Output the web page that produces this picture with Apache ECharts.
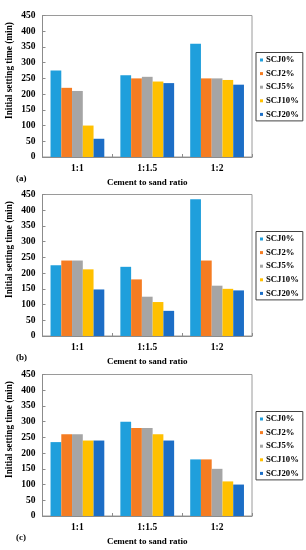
<!DOCTYPE html>
<html>
<head>
<meta charset="utf-8">
<script src="https://cdn.jsdelivr.net/npm/echarts@6/dist/echarts.min.js"></script>
<style>
html,body{margin:0;padding:0;background:#fff;}
#chart{width:306px;height:550px;}
</style>
</head>
<body>
<div id="chart"></div>
<script>
var categories = ['1:1', '1:1.5', '1:2'];
var seriesNames = ['SCJ0%', 'SCJ2%', 'SCJ5%', 'SCJ10%', 'SCJ20%'];
var colors = ['#1F9FDC', '#F57C22', '#A5A5A5', '#FFC000', '#1C6EC6'];
var yTicks = [0, 50, 100, 150, 200, 250, 300, 350, 400, 450];
var panelLabels = ['(a)', '(b)', '(c)'];
var xAxisTitle = 'Cement to sand ratio';
var yAxisTitle = 'Initial setting time (min)';

// values per series per panel, order: 1:1, 1:1.5, 1:2
var panelA_SCJ0 = [275, 260, 360];
var panelA_SCJ2 = [220, 250, 250];
var panelA_SCJ5 = [210, 255, 250];
var panelA_SCJ10 = [100, 240, 245];
var panelA_SCJ20 = [58, 235, 230];

var panelB_SCJ0 = [225, 220, 435];
var panelB_SCJ2 = [240, 180, 240];
var panelB_SCJ5 = [240, 125, 160];
var panelB_SCJ10 = [212, 108, 150];
var panelB_SCJ20 = [148, 80, 145];

var panelC_SCJ0 = [235, 300, 180];
var panelC_SCJ2 = [260, 280, 180];
var panelC_SCJ5 = [260, 280, 150];
var panelC_SCJ10 = [240, 260, 110];
var panelC_SCJ20 = [240, 240, 100];

var panels = [
  [panelA_SCJ0, panelA_SCJ2, panelA_SCJ5, panelA_SCJ10, panelA_SCJ20],
  [panelB_SCJ0, panelB_SCJ2, panelB_SCJ5, panelB_SCJ10, panelB_SCJ20],
  [panelC_SCJ0, panelC_SCJ2, panelC_SCJ5, panelC_SCJ10, panelC_SCJ20]
];

var FONT = '"Liberation Serif", "Times New Roman", serif';
var gridTops = [15.5, 194.5, 374.5];
var gridH = 141.5;

var grids = [], xAxes = [], yAxes = [], series = [], legends = [], graphics = [];
panels.forEach(function (vals, p) {
  var top = gridTops[p];
  grids.push({
    left: 42.5, width: 209.5, top: top, height: gridH,
    show: true, borderColor: '#9a9a9a', borderWidth: 1, containLabel: false
  });
  xAxes.push({
    type: 'category', gridIndex: p, data: categories,
    axisLine: { lineStyle: { color: '#8c8c8c', width: 1 } },
    axisTick: { show: true, inside: true, length: 3, lineStyle: { color: '#8c8c8c' } },
    axisLabel: { color: '#000', fontFamily: FONT, fontWeight: 'bold', fontSize: 9.5, margin: 7 },
    name: xAxisTitle, nameLocation: 'middle', nameGap: 21,
    nameTextStyle: { color: '#000', fontFamily: FONT, fontWeight: 'bold', fontSize: 9 }
  });
  yAxes.push({
    type: 'value', gridIndex: p, min: 0, max: 450, interval: 50,
    axisLine: { show: true, lineStyle: { color: '#8c8c8c', width: 1 } },
    axisTick: { show: true, inside: true, length: 3, lineStyle: { color: '#8c8c8c' } },
    splitLine: { show: false },
    axisLabel: { color: '#000', fontFamily: FONT, fontWeight: 'bold', fontSize: 9.5, margin: 7,
      formatter: function (v) { return yTicks.indexOf(v) >= 0 ? String(v) : ''; } }
  });
  vals.forEach(function (arr, s) {
    series.push({
      type: 'bar', name: seriesNames[s], xAxisIndex: p, yAxisIndex: p,
      data: arr, barGap: '0%', barCategoryGap: '23%',
      itemStyle: { color: colors[s] }, emphasis: { disabled: true }
    });
  });
  legends.push({
    data: seriesNames, orient: 'vertical', left: 256, top: top + 37,
    itemWidth: 3, itemHeight: 3, itemGap: 4.6, icon: 'rect',
    padding: [3, 4, 2, 4], borderColor: '#444', borderWidth: 1,
    textStyle: { color: '#000', fontFamily: FONT, fontWeight: 'bold', fontSize: 8.7, padding: [0, 0, 0, -2] }
  });
  graphics.push({
    type: 'text', x: 9.5, y: top + 55, rotation: Math.PI / 2,
    style: { text: yAxisTitle, fill: '#000', font: 'bold 9.3px ' + FONT, textAlign: 'center', textVerticalAlign: 'middle' }
  });
  graphics.push({
    type: 'text', x: 16, y: top + 163,
    style: { text: panelLabels[p], fill: '#000', font: 'bold 9px ' + FONT, textAlign: 'left', textVerticalAlign: 'middle' }
  });
});

var chart = echarts.init(document.getElementById('chart'), null, { renderer: 'canvas' });
chart.setOption({
  animation: false,
  backgroundColor: '#fff',
  grid: grids, xAxis: xAxes, yAxis: yAxes, series: series, legend: legends,
  graphic: graphics
});
</script>
</body>
</html>
